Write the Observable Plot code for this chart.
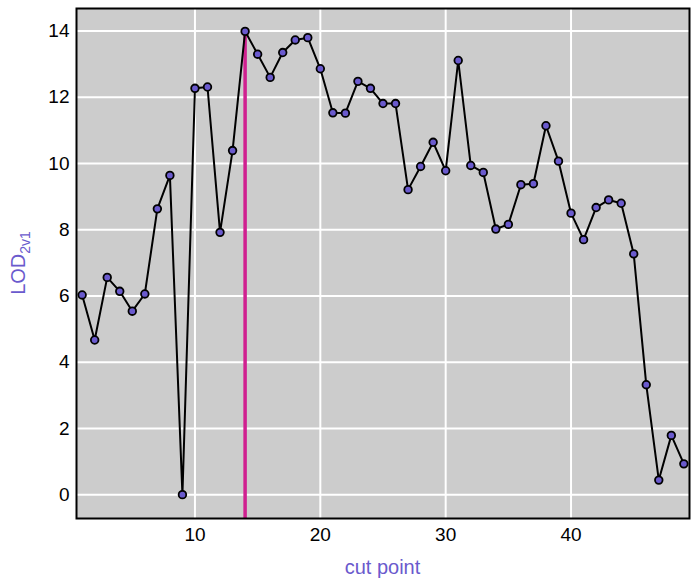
<!DOCTYPE html>
<html>
<head>
<meta charset="utf-8">
<script src="https://cdn.jsdelivr.net/npm/d3@7"></script>
<script src="https://cdn.jsdelivr.net/npm/@observablehq/plot@0.6"></script>
<style>
  html, body { margin: 0; padding: 0; background: white; }
  #chart { width: 699px; height: 586px; }
</style>
</head>
<body>
<div id="chart"></div>
<script>
const cutPoints = d3.range(1, 50);
const lodValues = [
  6.03, 4.67, 6.56, 6.14, 5.54, 6.06, 8.63, 9.64, 0.00, 12.27,
  12.31, 7.92, 10.39, 13.99, 13.30, 12.60, 13.35, 13.73, 13.80, 12.86,
  11.53, 11.52, 12.48, 12.27, 11.81, 11.81, 9.21, 9.91, 10.64, 9.78,
  13.11, 9.94, 9.73, 8.02, 8.16, 9.36, 9.39, 11.14, 10.07, 8.50,
  7.70, 8.67, 8.90, 8.80, 7.27, 3.32, 0.44, 1.79, 0.93
];
const xTicks = [10, 20, 30, 40];
const yTicks = [0, 2, 4, 6, 8, 10, 12, 14];
const bestCut = 14;
const xLabel = "cut point";
const yLabelMain = "LOD";
const yLabelSub = "2v1";

const data = cutPoints.map((c, i) => ({x: c, y: lodValues[i]}));
const yDomain = [-0.72, 14.68];
const best = data.find(d => d.x === bestCut);
const font = "'Liberation Sans', Arial, sans-serif";

const chart = Plot.plot({
  width: 699,
  height: 586,
  marginLeft: 76,
  marginRight: 10,
  marginTop: 8,
  marginBottom: 68,
  style: {fontFamily: font, fontSize: "19px", background: "white", color: "black"},
  x: {domain: [0.55, 49.45], label: null},
  y: {domain: yDomain, label: null},
  marks: [
    Plot.frame({fill: "#cccccc", stroke: "none"}),
    Plot.gridX(xTicks, {stroke: "white", strokeOpacity: 1, strokeWidth: 2}),
    Plot.gridY(yTicks, {stroke: "white", strokeOpacity: 1, strokeWidth: 2}),
    Plot.ruleX([best], {x: "x", y1: yDomain[0], y2: "y", stroke: "#d02090", strokeWidth: 3.5}),
    Plot.line(data, {x: "x", y: "y", stroke: "black", strokeWidth: 2}),
    Plot.dot(data, {x: "x", y: "y", r: 3.8, fill: "#6a5acd", stroke: "black", strokeWidth: 1.8}),
    Plot.frame({stroke: "black", strokeWidth: 2}),
    Plot.axisX(xTicks, {tickSize: 0, tickPadding: 9, label: null, fill: "black", fontSize: 19}),
    Plot.axisY(yTicks, {tickSize: 0, tickPadding: 7, label: null, fill: "black", fontSize: 19})
  ]
});

const svg = d3.select(chart);
svg.append("text")
  .attr("x", (76 + 689) / 2)
  .attr("y", 574)
  .attr("text-anchor", "middle")
  .attr("fill", "#6a5acd")
  .style("font-family", font)
  .style("font-size", "20px")
  .text(xLabel);

const yl = svg.append("text")
  .attr("transform", `translate(25,${(8 + 518) / 2}) rotate(-90)`)
  .attr("text-anchor", "middle")
  .attr("fill", "#6a5acd")
  .style("font-family", font)
  .style("font-size", "20px");
yl.append("tspan").text(yLabelMain);
yl.append("tspan").attr("dy", 5).style("font-size", "14px").text(yLabelSub);

document.getElementById("chart").appendChild(chart);
</script>
</body>
</html>
